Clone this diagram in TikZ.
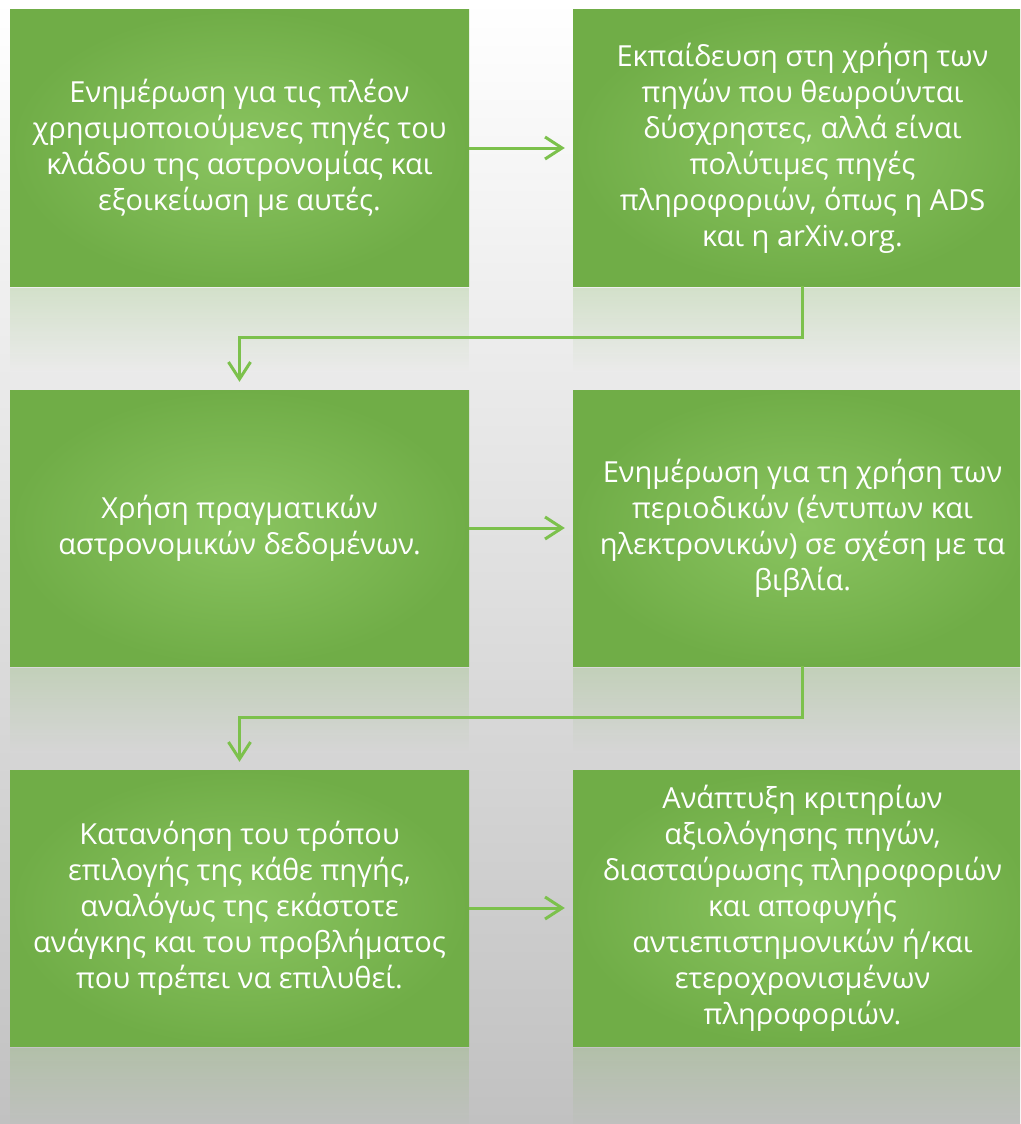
\documentclass[tikz,border=0pt]{standalone}
\usepackage{fontspec}
\setmainfont{Open Sans}
\usetikzlibrary{positioning, arrows.meta, fadings}

\definecolor{bgmid}{RGB}{226,226,226}
\definecolor{bgbot}{RGB}{193,193,193}
\definecolor{boxmid}{RGB}{138,196,96}
\definecolor{boxedge}{RGB}{112,173,71}
\definecolor{link}{RGB}{124,193,76}

\begin{document}
\begin{tikzpicture}[node distance=380pt and 563pt, on grid,
    stage/.style={rectangle, minimum width=459pt, minimum height=276pt, inner sep=0pt,
        shading=radial, inner color=boxmid, outer color=boxedge,
        text=white, align=center, font=\fontsize{29}{36}\selectfont},
    mirror/.style={fill=boxedge, fill opacity=0.22, path fading=south},
    >={Straight Barb[length=17pt, width=22pt]},
    shorten >=8pt]
    \clip (0,0) rectangle (1020pt,-1124pt);
    \shade[top color=white, middle color=bgmid, bottom color=bgbot] (0,0) rectangle (1020pt,-1124pt);
    \node[stage] (s_1) at (239.5pt,-148pt) {Ενημέρωση για τις πλέον\\ χρησιμοποιούμενες πηγές του\\ κλάδου της αστρονομίας και\\ εξοικείωση με αυτές.};
    \node[stage] (s_2) [right=of s_1] {Εκπαίδευση στη χρήση των\\ πηγών που θεωρούνται\\ δύσχρηστες, αλλά είναι\\ πολύτιμες πηγές\\ πληροφοριών, όπως η ADS\\ και η arXiv.org.};
    \node[stage] (s_3) [below=of s_1] {Χρήση πραγματικών\\ αστρονομικών δεδομένων.};
    \node[stage] (s_4) [right=of s_3] {Ενημέρωση για τη χρήση των\\ περιοδικών (έντυπων και\\ ηλεκτρονικών) σε σχέση με τα\\ βιβλία.};
    \node[stage] (s_5) [below=of s_3] {Κατανόηση του τρόπου\\ επιλογής της κάθε πηγής,\\ αναλόγως της εκάστοτε\\ ανάγκης και του προβλήματος\\ που πρέπει να επιλυθεί.};
    \node[stage] (s_6) [right=of s_5] {Ανάπτυξη κριτηρίων\\ αξιολόγησης πηγών,\\ διασταύρωσης πληροφοριών\\ και αποφυγής\\ αντιεπιστημονικών ή/και\\ ετεροχρονισμένων\\ πληροφοριών.};
    % reflections
    \foreach \s in {s_1, s_2, s_3, s_4, s_5, s_6}
        \fill[mirror] ([yshift=-2pt]\s.south west) rectangle ([yshift=-85pt]\s.south east);
	\path[->, draw=link, line width=3pt]
	(s_1) edge (s_2)
	(s_3) edge (s_4)
	(s_5) edge (s_6);
	\draw[->, link, line width=3pt] (s_2.south) -- ++(0,-51pt) -| (s_3.north);
	\draw[->, link, line width=3pt] (s_4.south) -- ++(0,-51pt) -| (s_5.north);
\end{tikzpicture}
\end{document}
